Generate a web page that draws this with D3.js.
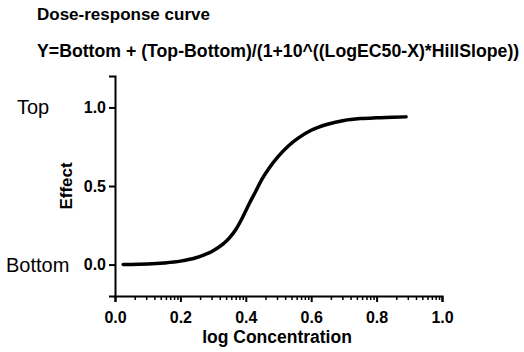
<!DOCTYPE html>
<meta charset="utf-8">
<script src="https://d3js.org/d3.v7.min.js"></script>
<style>
  body { margin: 0; background: #fff; }
  text { font-family: "Liberation Sans", Arial, sans-serif; fill: #000; }
  .axis path, .axis line { stroke: #000; }
  .axis text { font-weight: bold; font-size: 16px; }
</style>
<svg id="chart" width="524" height="352"></svg>
<script>
  // values
  var logConc = [0.025, 0.05, 0.10, 0.15, 0.20, 0.25, 0.30, 0.33, 0.35, 0.37, 0.39, 0.41, 0.43,
                 0.45, 0.47, 0.50, 0.53, 0.56, 0.60, 0.65, 0.70, 0.75, 0.80, 0.85, 0.89];
  var effect = [0.000, 0.000, 0.003, 0.010, 0.022, 0.045, 0.088, 0.130, 0.170, 0.225, 0.300, 0.385, 0.465,
                0.545, 0.610, 0.690, 0.755, 0.805, 0.855, 0.893, 0.917, 0.929, 0.934, 0.937, 0.940];
  var xTicks = [0.0, 0.2, 0.4, 0.6, 0.8, 1.0];
  var yTicks = [0.0, 0.5, 1.0];

  var svg = d3.select("#chart");

  var x = d3.scaleLinear().domain([0, 1]).range([115, 442]);
  var y = d3.scaleLinear().domain([-0.2, 1.2]).range([296, 76]);

  // titles
  svg.append("text")
    .attr("x", 37).attr("y", 20)
    .style("font-size", "17px").style("font-weight", "bold")
    .text("Dose-response curve");
  svg.append("text")
    .attr("x", 37).attr("y", 57)
    .style("font-size", "17.7px").style("font-weight", "bold")
    .text("Y=Bottom + (Top-Bottom)/(1+10^((LogEC50-X)*HillSlope))");

  // minor ticks, log spaced inside each 0.2 step
  var minor = [];
  for (var i = 0; i < 5; i++) {
    for (var k = 2; k <= 9; k++) minor.push(i * 0.2 + 0.2 * Math.log10(k));
  }

  svg.append("g")
    .attr("class", "axis")
    .attr("transform", "translate(0,296)")
    .call(d3.axisBottom(x).tickValues(minor).tickSize(4).tickFormat(""))
    .call(function (g) { g.select(".domain").remove(); })
    .selectAll("line").attr("stroke-width", 1.5);

  var xAxis = svg.append("g")
    .attr("class", "axis")
    .attr("transform", "translate(0,296)")
    .call(d3.axisBottom(x).tickValues(xTicks).tickSizeOuter(0).tickSize(6).tickPadding(10)
      .tickFormat(d3.format(".1f")));
  xAxis.select(".domain").attr("stroke-width", 2);
  xAxis.selectAll("line").attr("stroke-width", 2);

  var yAxis = svg.append("g")
    .attr("class", "axis")
    .attr("transform", "translate(115,0)")
    .call(d3.axisLeft(y).tickValues(yTicks).tickSizeOuter(0).tickSize(6).tickPadding(3)
      .tickFormat(d3.format(".1f")));
  yAxis.select(".domain").attr("stroke-width", 2);
  yAxis.selectAll("line").attr("stroke-width", 2);

  // axis titles
  svg.append("text")
    .attr("x", 277).attr("y", 343)
    .attr("text-anchor", "middle")
    .style("font-size", "17.5px").style("font-weight", "bold")
    .text("log Concentration");
  svg.append("text")
    .attr("transform", "translate(72,186) rotate(-90)")
    .attr("text-anchor", "middle")
    .style("font-size", "17px").style("font-weight", "bold")
    .text("Effect");

  // Top / Bottom labels
  svg.append("text")
    .attr("x", 17).attr("y", y(1) + 7)
    .style("font-size", "20px")
    .text("Top");
  svg.append("text")
    .attr("x", 6).attr("y", y(0) + 7)
    .style("font-size", "20px")
    .text("Bottom");

  // curve
  var pts = logConc.map(function (d, i) { return [d, effect[i]]; });
  svg.append("path")
    .datum(pts)
    .attr("fill", "none")
    .attr("stroke", "#000")
    .attr("stroke-width", 3.5)
    .attr("stroke-linecap", "round")
    .attr("d", d3.line()
      .x(function (d) { return x(d[0]); })
      .y(function (d) { return y(d[1]); })
      .curve(d3.curveMonotoneX));
</script>
